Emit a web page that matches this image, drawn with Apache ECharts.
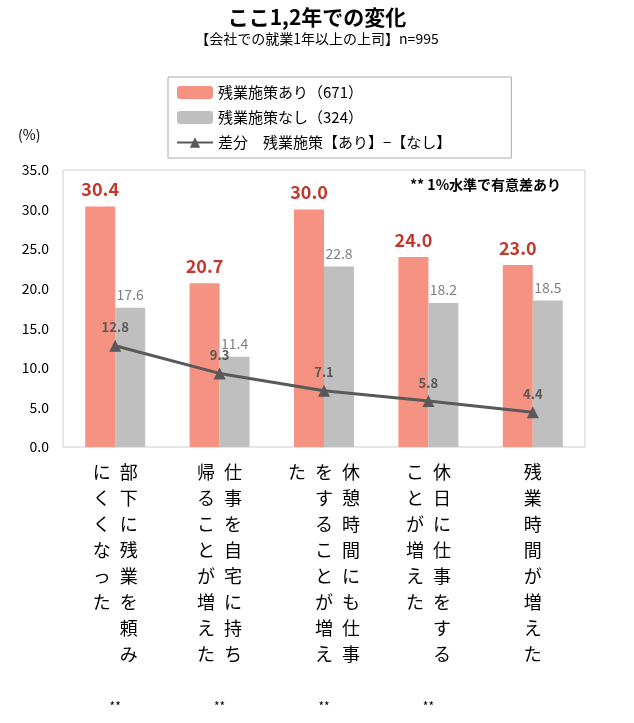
<!DOCTYPE html>
<html><head><meta charset="utf-8">
<script src="https://cdn.jsdelivr.net/npm/echarts@6/dist/echarts.min.js"></script>
<style>html,body{margin:0;padding:0;background:#fff}#chart{width:634px;height:723px}</style>
</head><body><div id="chart"></div>
<script>
// each category: columns of vertical text, right column first
const categories = [
  ['部下に残業を頼み', 'にくくなった'],
  ['仕事を自宅に持ち', '帰ることが増えた'],
  ['休憩時間にも仕事', 'をすることが増え', 'た'],
  ['休日に仕事をする', 'ことが増えた'],
  ['残業時間が増えた']
];
const significant = [true, true, true, true, false];
const withMeasures = [30.4, 20.7, 30.0, 24.0, 23.0];
const withoutMeasures = [17.6, 11.4, 22.8, 18.2, 18.5];
const difference = [12.8, 9.3, 7.1, 5.8, 4.4];
const yTicks = [0, 5, 10, 15, 20, 25, 30, 35];

function verticalLabel(cols, sig) {
  const rows = [];
  const n = Math.max(...cols.map(c => c.length));
  for (let i = 0; i < n; i++) {
    const parts = [];
    for (let j = cols.length - 1; j >= 0; j--) parts.push(cols[j][i] || '\u3000');
    rows.push(parts.join('\u2002'));
  }
  while (rows.length < 8) rows.push('');
  rows.push('', '{s|' + (sig ? '**' : '') + '}');
  return rows.join('\n');
}
const catNames = categories.map((c, i) => verticalLabel(c, significant[i]));

const chart = echarts.init(document.getElementById('chart'));
chart.setOption({
  textStyle: { fontFamily: 'Noto Sans CJK JP' },
  animation: false,
  title: {
    text: 'ここ1,2年での変化',
    subtext: '【会社での就業1年以上の上司】n=995',
    left: 'center', top: 2, itemGap: 4,
    textStyle: { fontSize: 21, fontWeight: 'bold', color: '#000' },
    subtextStyle: { fontSize: 14, color: '#000' }
  },
  legend: {
    orient: 'vertical', left: 168, top: 77, width: 320,
    padding: [8, 60, 8, 8], itemGap: 10,
    borderColor: '#aaa', borderWidth: 1,
    itemWidth: 36, itemHeight: 13,
    textStyle: { fontSize: 15, color: '#000' },
    data: ['残業施策あり（671）', '残業施策なし（324）', '差分　残業施策【あり】−【なし】']
  },
  graphic: [
    { type: 'text', left: 18, top: 128, style: { text: '(%)', fontSize: 14, fill: '#000', fontFamily: 'Noto Sans CJK JP' } },
    { type: 'text', left: 410, top: 178, style: { text: '** 1%水準で有意差あり', fontSize: 14, fontWeight: 'bold', fill: '#000', fontFamily: 'Noto Sans CJK JP' } }
  ],
  grid: { left: 63, right: 49, top: 170, bottom: 276, show: true, borderColor: '#ccc', borderWidth: 1 },
  xAxis: {
    type: 'category', data: catNames,
    axisLine: { show: false }, axisTick: { show: false },
    axisLabel: {
      interval: 0, margin: 12, fontSize: 18, lineHeight: 26, color: '#000', verticalAlign: 'top',
      rich: { s: { fontSize: 12, lineHeight: 26, color: '#000' } }
    }
  },
  yAxis: {
    type: 'value', min: yTicks[0], max: yTicks[yTicks.length - 1], interval: 5,
    splitLine: { show: false }, axisLine: { show: false }, axisTick: { show: false },
    axisLabel: { fontSize: 14, color: '#000', margin: 14, formatter: v => v.toFixed(1) }
  },
  series: [
    {
      name: '残業施策あり（671）', type: 'bar', data: withMeasures, barWidth: 30, barGap: '0%',
      itemStyle: { color: '#F69282' },
      label: { show: true, position: 'top', fontSize: 18, fontWeight: 'bold', color: '#C0392B', formatter: p => p.value.toFixed(1), distance: 8 }
    },
    {
      name: '残業施策なし（324）', type: 'bar', data: withoutMeasures, barWidth: 30,
      itemStyle: { color: '#BFBFBF' },
      label: { show: true, position: 'top', fontSize: 14, color: '#7f7f7f', formatter: p => p.value.toFixed(1), distance: 6 }
    },
    {
      name: '差分　残業施策【あり】−【なし】', type: 'line', data: difference,
      symbol: 'triangle', symbolSize: 12,
      lineStyle: { color: '#595959', width: 3 }, itemStyle: { color: '#595959' },
      label: { show: true, position: 'top', fontSize: 13, fontWeight: 'bold', color: '#595959', formatter: p => p.value.toFixed(1), distance: 6 },
      z: 5
    }
  ]
});
</script></body></html>
